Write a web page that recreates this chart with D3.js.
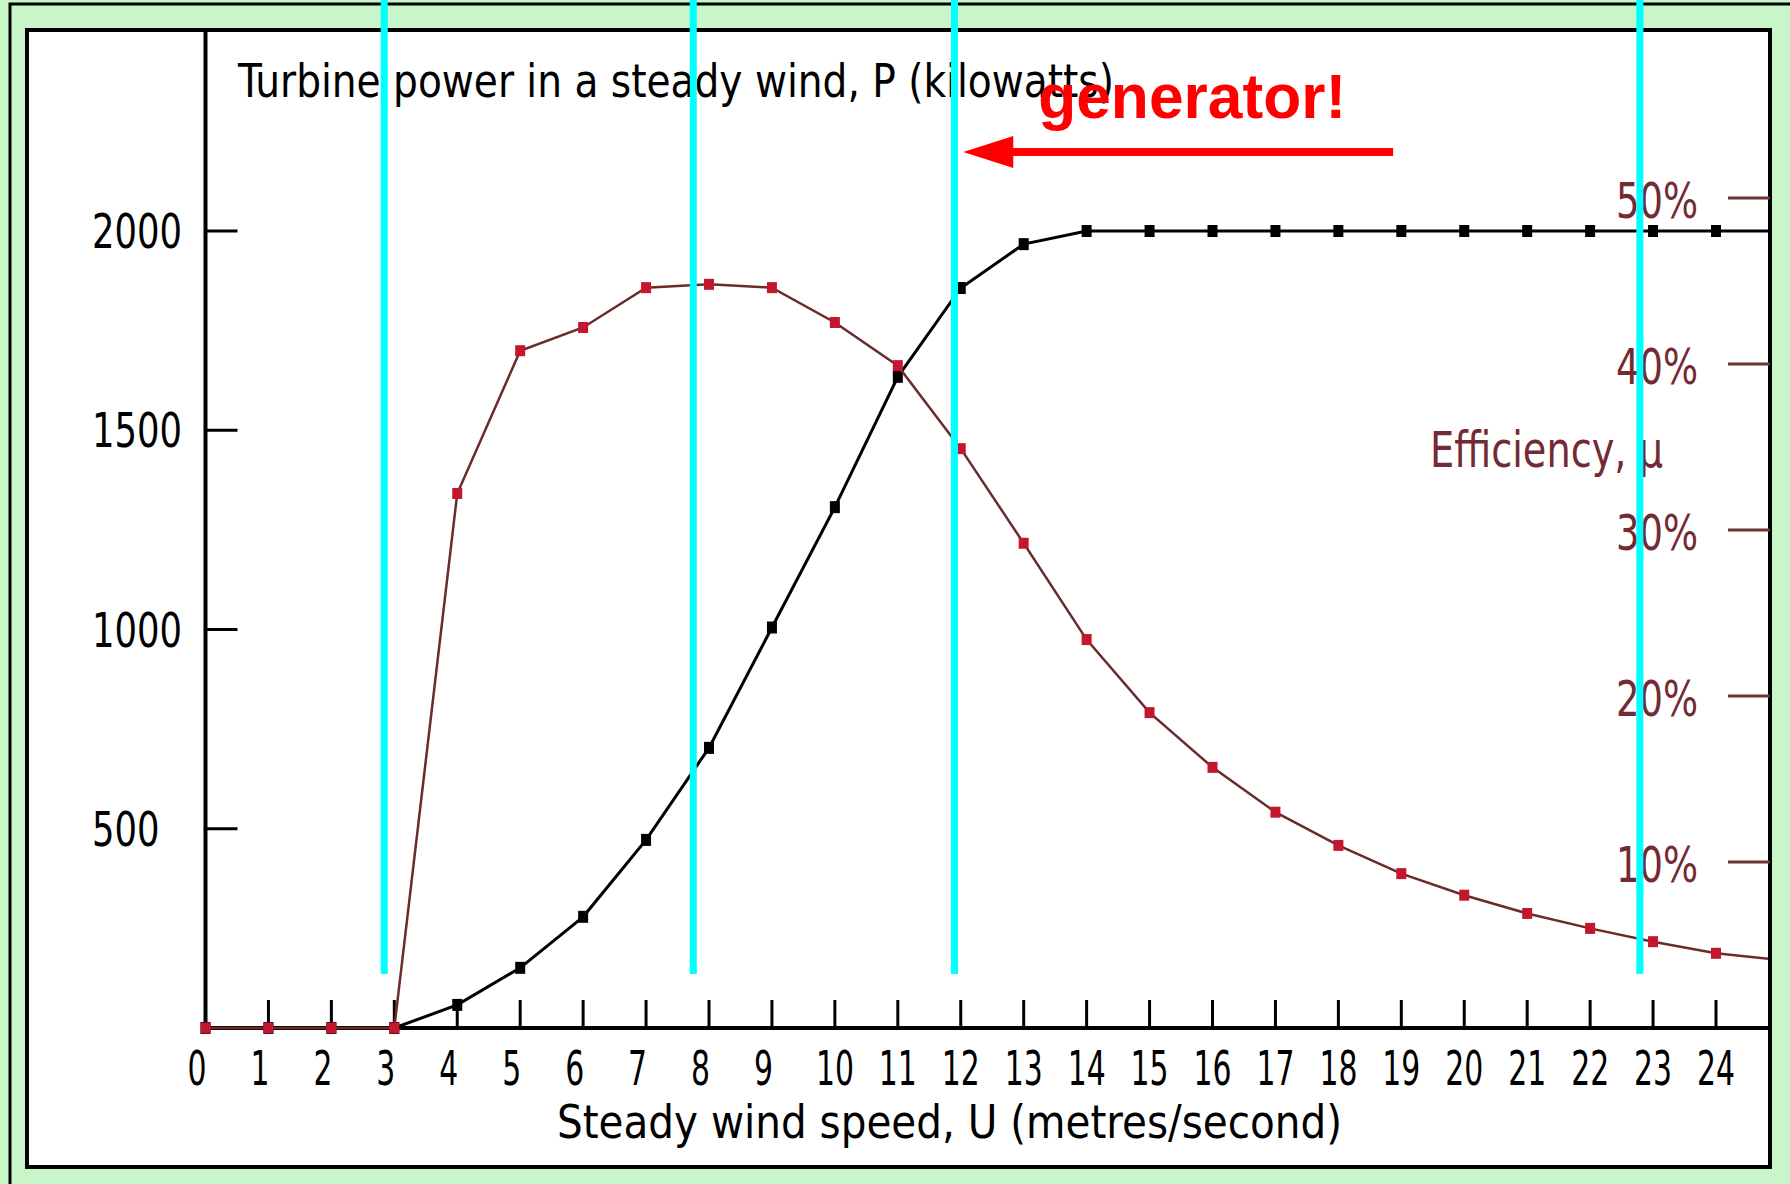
<!DOCTYPE html>
<head>
<meta charset="utf-8">
<style>
body { margin: 0; background: #c8f6c8; }
svg text { font-family: "DejaVu Sans", sans-serif; font-stretch: condensed; }
.axis-line { stroke: black; stroke-width: 4px; }
.tick-line { stroke: black; stroke-width: 3px; }
.eff-tick { stroke: #6b3232; stroke-width: 3px; }
.power-line { stroke: black; stroke-width: 3px; fill: none; }
.eff-line { stroke: #6b2b2b; stroke-width: 2.5px; fill: none; }
.marker-line { stroke: #00ffff; stroke-width: 7px; }
</style>
</head>
<body>
<script src="https://d3js.org/d3.v7.min.js"></script>
<script>
  // wind speed (m/s), 25 only continues the lines past the panel edge
  var windSpeed = d3.range(0, 26);
  // turbine power in kW
  var powerKW = [0, 0, 0, 0, 58, 151, 279, 472, 703, 1005, 1307, 1634, 1857, 1967,
                 2000, 2000, 2000, 2000, 2000, 2000, 2000, 2000, 2000, 2000, 2000, 2000];
  // efficiency in %
  var efficiencyPct = [0, 0, 0, 0, 32.2, 40.8, 42.2, 44.6, 44.8, 44.6, 42.5, 39.9, 34.9,
                       29.2, 23.4, 19.0, 15.7, 13.0, 11.0, 9.3, 8.0, 6.9, 6.0, 5.2, 4.5, 4.1];
  var xTicks = d3.range(0, 25);
  var powerTicks = [500, 1000, 1500, 2000];
  var effTicks = [10, 20, 30, 40, 50];
  // cyan marker lines drawn over the chart (wind speed)
  var cyanSpeeds = [2.84, 7.75, 11.9, 22.79];
  // arrow pointing at 12 m/s (from, to) and its label
  var arrowSpeeds = [18.87, 12.04];
  var arrowPower = 2198;
  var noteText = "generator!";

  var W = 1790, H = 1184;
  var panel = { left: 27, top: 30, right: 1770, bottom: 1167 };
  var digitW = 21;  // squeezed digit width, the original uses a narrow bitmap font

  var svg = d3.select("body")
    .append("svg")
      .attr("width", W)
      .attr("height", H);

  // green frame + white panel
  svg.append("rect")
      .attr("width", W).attr("height", H)
      .attr("fill", "#c8f6c8");
  svg.append("path")
      .attr("d", "M10," + H + "V4H" + W)
      .attr("fill", "none")
      .attr("stroke", "black")
      .attr("stroke-width", 3);
  svg.append("rect")
      .attr("x", panel.left).attr("y", panel.top)
      .attr("width", panel.right - panel.left)
      .attr("height", panel.bottom - panel.top)
      .attr("fill", "white")
      .attr("stroke", "black")
      .attr("stroke-width", 4);

  var xScale = d3.scaleLinear().domain([0, 24]).range([205.5, 1716]);
  var yPower = d3.scaleLinear().domain([0, 2000]).range([1028, 231]);
  var yEff = d3.scaleLinear().domain([0, 50]).range([1028, 198]);

  svg.append("defs").append("clipPath")
      .attr("id", "plot-clip")
    .append("rect")
      .attr("x", 0).attr("y", panel.top)
      .attr("width", panel.right - 2).attr("height", 1028 - panel.top + 10);

  // x axis
  var xAxis = svg.append("g");
  xAxis.append("line")
      .classed("axis-line", true)
      .attr("x1", xScale(0)).attr("x2", panel.right)
      .attr("y1", yPower(0)).attr("y2", yPower(0));
  xAxis.selectAll("line.tick-line")
    .data(xTicks)
    .enter().append("line")
      .classed("tick-line", true)
      .attr("x1", function (d) { return xScale(d); })
      .attr("x2", function (d) { return xScale(d); })
      .attr("y1", yPower(0))
      .attr("y2", yPower(0) - 28);
  xAxis.selectAll("text")
    .data(xTicks)
    .enter().append("text")
      .attr("x", function (d) { return xScale(d) + (d < 10 ? 1 : 0); })
      .attr("y", 1085)
      .attr("textLength", function (d) { return String(d).length * 19; })
      .attr("lengthAdjust", "spacingAndGlyphs")
      .style("text-anchor", function (d) { return d < 10 ? "end" : "middle"; })
      .style("font-size", "48px")
      .text(function (d) { return d; });

  // left power axis
  var yAxis = svg.append("g");
  yAxis.append("line")
      .classed("axis-line", true)
      .attr("x1", xScale(0)).attr("x2", xScale(0))
      .attr("y1", panel.top).attr("y2", yPower(0) + 2);
  yAxis.selectAll("line.tick-line")
    .data(powerTicks)
    .enter().append("line")
      .classed("tick-line", true)
      .attr("x1", xScale(0)).attr("x2", xScale(0) + 32)
      .attr("y1", function (d) { return yPower(d); })
      .attr("y2", function (d) { return yPower(d); });
  yAxis.selectAll("text")
    .data(powerTicks)
    .enter().append("text")
      .attr("x", 92)
      .attr("y", function (d) { return yPower(d) + 17; })
      .attr("textLength", function (d) { return String(d).length * 22.5; })
      .attr("lengthAdjust", "spacingAndGlyphs")
      .style("font-size", "48px")
      .text(function (d) { return d; });

  // right efficiency ticks
  var effAxis = svg.append("g");
  effAxis.selectAll("line")
    .data(effTicks)
    .enter().append("line")
      .classed("eff-tick", true)
      .attr("x1", 1728).attr("x2", panel.right)
      .attr("y1", function (d) { return yEff(d); })
      .attr("y2", function (d) { return yEff(d); });
  effAxis.selectAll("text")
    .data(effTicks)
    .enter().append("text")
      .attr("x", 1698)
      .attr("y", function (d) { return yEff(d) + 20; })
      .attr("textLength", 2 * digitW + 40)
      .attr("lengthAdjust", "spacingAndGlyphs")
      .style("text-anchor", "end")
      .style("font-size", "50px")
      .style("fill", "#742a33")
      .text(function (d) { return d + "%"; });

  // titles
  svg.append("text")
      .attr("x", 238).attr("y", 97)
      .attr("textLength", 876)
      .attr("lengthAdjust", "spacingAndGlyphs")
      .style("font-size", "46px")
      .text("Turbine power in a steady wind, P (kilowatts)");
  svg.append("text")
      .attr("x", 557).attr("y", 1138)
      .attr("textLength", 785)
      .attr("lengthAdjust", "spacingAndGlyphs")
      .style("font-size", "46px")
      .text("Steady wind speed, U (metres/second)");
  svg.append("text")
      .attr("x", 1430).attr("y", 467)
      .attr("textLength", 233)
      .attr("lengthAdjust", "spacingAndGlyphs")
      .style("font-size", "50px")
      .style("fill", "#742a33")
      .text("Efficiency, \u03bc");

  // series
  var plot = svg.append("g").attr("clip-path", "url(#plot-clip)");

  var powerLine = d3.line()
    .x(function (d, i) { return xScale(windSpeed[i]); })
    .y(function (d) { return yPower(d); });
  var effLine = d3.line()
    .x(function (d, i) { return xScale(windSpeed[i]); })
    .y(function (d) { return yEff(d); });

  plot.append("path")
      .classed("power-line", true)
      .attr("d", powerLine(powerKW));
  plot.selectAll("rect.power-pt")
    .data(powerKW)
    .enter().append("rect")
      .classed("power-pt", true)
      .attr("x", function (d, i) { return xScale(windSpeed[i]) - 5; })
      .attr("y", function (d) { return yPower(d) - 6; })
      .attr("width", 10).attr("height", 12)
      .attr("fill", "black");

  plot.append("path")
      .classed("eff-line", true)
      .attr("d", effLine(efficiencyPct));
  plot.selectAll("rect.eff-pt")
    .data(efficiencyPct)
    .enter().append("rect")
      .classed("eff-pt", true)
      .attr("x", function (d, i) { return xScale(windSpeed[i]) - 5; })
      .attr("y", function (d) { return yEff(d) - 5.5; })
      .attr("width", 10).attr("height", 11)
      .attr("fill", "#c4162c");

  // cyan marker lines
  svg.selectAll("line.marker-line")
    .data(cyanSpeeds)
    .enter().append("line")
      .classed("marker-line", true)
      .attr("x1", function (d) { return xScale(d); })
      .attr("x2", function (d) { return xScale(d); })
      .attr("y1", 0)
      .attr("y2", 974);

  // arrow + note
  var tipX = xScale(arrowSpeeds[1]), tailX = xScale(arrowSpeeds[0]), ay = yPower(arrowPower);
  svg.append("line")
      .attr("x1", tailX).attr("x2", tipX + 45)
      .attr("y1", ay).attr("y2", ay)
      .attr("stroke", "#ff0000")
      .attr("stroke-width", 8);
  svg.append("path")
      .attr("d", "M" + tipX + "," + ay + "L" + (tipX + 50) + "," + (ay - 16) + "V" + (ay + 16) + "Z")
      .attr("fill", "#ff0000");
  svg.append("text")
      .attr("x", xScale(13.23)).attr("y", yPower(2284))
      .attr("textLength", 308)
      .attr("lengthAdjust", "spacingAndGlyphs")
      .style("font-family", "'Liberation Sans', Arial, sans-serif")
      .style("font-stretch", "normal")
      .style("font-weight", "bold")
      .style("font-size", "63px")
      .style("fill", "#ff0000")
      .text(noteText);
</script>
</body>
</html>
